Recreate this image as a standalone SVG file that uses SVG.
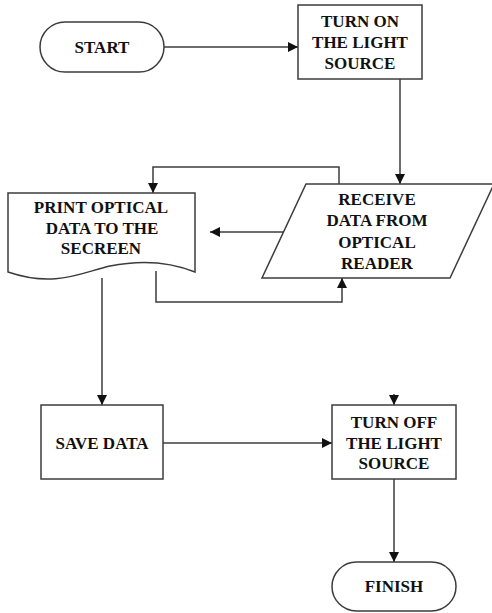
<svg xmlns="http://www.w3.org/2000/svg" width="492" height="613" viewBox="0 0 492 613">
  <style>
    .shape { fill: #ffffff; stroke: #3c3c3c; stroke-width: 1.5; }
    .link { fill: none; stroke: #3c3c3c; stroke-width: 1.5; }
    .label { font-family: "Liberation Serif", "Times New Roman", serif; font-weight: bold; font-size: 17px; fill: #111111; text-anchor: middle; dominant-baseline: central; }
  </style>
  <defs>
    <marker id="arrow" viewBox="0 0 10 10" refX="10" refY="5" markerWidth="10" markerHeight="10" markerUnits="userSpaceOnUse" orient="auto">
      <path d="M0,0 L10,5 L0,10 Z" fill="#111111"/>
    </marker>
  </defs>
  <rect width="492" height="613" fill="#ffffff"/>

  <g id="connectors">
    <path class="link" d="M164,47 H298" marker-end="url(#arrow)"/>
    <path class="link" d="M400,79 V184" marker-end="url(#arrow)"/>
    <path class="link" d="M339,184 V167 H153 V193" marker-end="url(#arrow)"/>
    <path class="link" d="M283,232 H210" marker-end="url(#arrow)"/>
    <path class="link" d="M156,271 V302 H342 V278" marker-end="url(#arrow)"/>
    <path class="link" d="M102,278 V405" marker-end="url(#arrow)"/>
    <path class="link" d="M163,443 H332" marker-end="url(#arrow)"/>
    <path class="link" d="M394,394 V405" stroke-width="0" marker-end="url(#arrow)"/>
    <path class="link" d="M394,479 V562" marker-end="url(#arrow)"/>
  </g>

  <g id="start">
    <rect class="shape" x="40" y="22" width="124" height="50" rx="25" ry="25"/>
    <text class="label" x="102" y="47">START</text>
  </g>

  <g id="turn-on">
    <rect class="shape" x="298" y="5" width="124" height="74"/>
    <text class="label" x="360" y="21">TURN ON</text>
    <text class="label" x="360" y="42">THE LIGHT</text>
    <text class="label" x="360" y="63">SOURCE</text>
  </g>

  <g id="receive-data">
    <path class="shape" d="M306,184 H494 L450,278 H262 Z"/>
    <text class="label" x="377" y="199">RECEIVE</text>
    <text class="label" x="377" y="220">DATA FROM</text>
    <text class="label" x="377" y="242">OPTICAL</text>
    <text class="label" x="377" y="263">READER</text>
  </g>

  <g id="print-data">
    <path class="shape" d="M8,193 H195 V272 C170,262 140,260 110,266 C80,273 55,288 8,272 Z"/>
    <text class="label" x="101" y="207">PRINT OPTICAL</text>
    <text class="label" x="102" y="228">DATA TO THE</text>
    <text class="label" x="101" y="248">SECREEN</text>
  </g>

  <g id="save-data">
    <rect class="shape" x="41" y="405" width="122" height="74"/>
    <text class="label" x="102" y="443">SAVE DATA</text>
  </g>

  <g id="turn-off">
    <rect class="shape" x="332" y="405" width="124" height="74"/>
    <text class="label" x="394" y="422">TURN OFF</text>
    <text class="label" x="394" y="443">THE LIGHT</text>
    <text class="label" x="394" y="463">SOURCE</text>
  </g>

  <g id="finish">
    <rect class="shape" x="332" y="562" width="124" height="49" rx="24.5" ry="24.5"/>
    <text class="label" x="394" y="586">FINISH</text>
  </g>
</svg>
